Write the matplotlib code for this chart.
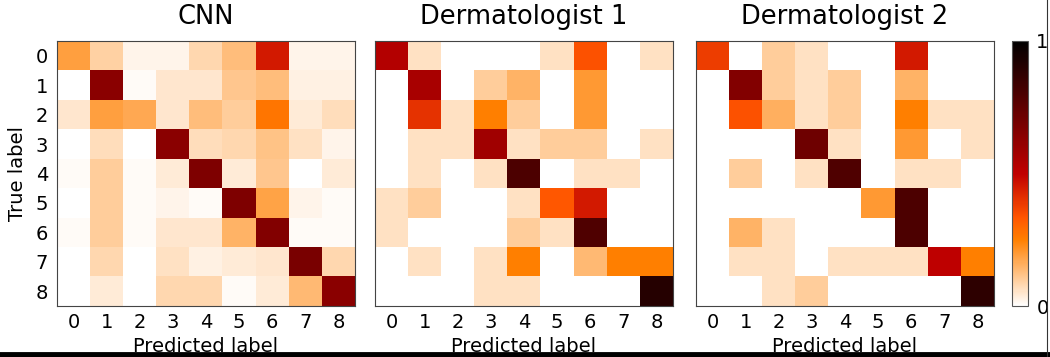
import numpy as np
import matplotlib
matplotlib.use("Agg")
import matplotlib.pyplot as plt
from matplotlib.lines import Line2D

# =========================
# Data (normalised confusion matrices)
# =========================
CLASSES = ["0", "1", "2", "3", "4", "5", "6", "7", "8"]
TITLES  = ["CNN", "Dermatologist 1", "Dermatologist 2"]

cnn = [
    [0.19, 0.09, 0.02, 0.02, 0.08, 0.13, 0.45, 0.02, 0.02],
    [0.00, 0.64, 0.01, 0.05, 0.05, 0.11, 0.13, 0.03, 0.03],
    [0.05, 0.19, 0.17, 0.05, 0.13, 0.10, 0.27, 0.04, 0.07],
    [0.00, 0.07, 0.00, 0.64, 0.07, 0.08, 0.12, 0.06, 0.02],
    [0.01, 0.10, 0.01, 0.04, 0.67, 0.04, 0.11, 0.00, 0.04],
    [0.00, 0.10, 0.01, 0.02, 0.01, 0.67, 0.18, 0.02, 0.01],
    [0.01, 0.10, 0.01, 0.05, 0.05, 0.15, 0.66, 0.01, 0.01],
    [0.00, 0.08, 0.00, 0.06, 0.03, 0.04, 0.05, 0.68, 0.08],
    [0.00, 0.04, 0.00, 0.08, 0.08, 0.01, 0.04, 0.14, 0.64],
]

derm1 = [
    [0.53, 0.06, 0.00, 0.00, 0.00, 0.06, 0.34, 0.00, 0.06],
    [0.00, 0.56, 0.00, 0.10, 0.15, 0.00, 0.20, 0.00, 0.00],
    [0.00, 0.40, 0.06, 0.25, 0.10, 0.00, 0.20, 0.00, 0.00],
    [0.00, 0.06, 0.06, 0.58, 0.06, 0.10, 0.10, 0.00, 0.06],
    [0.00, 0.06, 0.00, 0.06, 0.80, 0.00, 0.06, 0.06, 0.00],
    [0.06, 0.10, 0.00, 0.00, 0.06, 0.33, 0.45, 0.00, 0.00],
    [0.06, 0.00, 0.00, 0.00, 0.10, 0.06, 0.79, 0.00, 0.00],
    [0.00, 0.06, 0.00, 0.06, 0.25, 0.00, 0.14, 0.25, 0.25],
    [0.00, 0.00, 0.00, 0.06, 0.06, 0.00, 0.00, 0.00, 0.90],
]

derm2 = [
    [0.38, 0.00, 0.10, 0.06, 0.00, 0.00, 0.45, 0.00, 0.00],
    [0.00, 0.66, 0.10, 0.06, 0.10, 0.00, 0.15, 0.00, 0.00],
    [0.00, 0.34, 0.16, 0.06, 0.10, 0.00, 0.25, 0.06, 0.06],
    [0.00, 0.00, 0.00, 0.71, 0.06, 0.00, 0.20, 0.00, 0.06],
    [0.00, 0.10, 0.00, 0.06, 0.79, 0.00, 0.06, 0.06, 0.00],
    [0.00, 0.00, 0.00, 0.00, 0.00, 0.20, 0.80, 0.00, 0.00],
    [0.00, 0.15, 0.06, 0.00, 0.00, 0.00, 0.80, 0.00, 0.00],
    [0.00, 0.06, 0.06, 0.00, 0.06, 0.06, 0.06, 0.50, 0.25],
    [0.00, 0.00, 0.06, 0.10, 0.00, 0.00, 0.00, 0.00, 0.88],
]

MATRICES = [cnn, derm1, derm2]

# =========================
# Layout (pixels on a 1050x357 canvas)
# =========================
W, H = 1050, 357
AX_LEFTS  = [57, 375, 696]
AX_WIDTH  = 298
AX_TOP    = 41
AX_BOTTOM = 306
CB_LEFT, CB_WIDTH = 1012, 16
FS = 14

fig = plt.figure(figsize=(W / 100, H / 100), dpi=100)


def px_rect(left, width, top, bottom):
    return [left / W, 1 - bottom / H, width / W, (bottom - top) / H]


cmap = plt.get_cmap("gist_heat_r")
im = None
for i, (mat, title) in enumerate(zip(MATRICES, TITLES)):
    ax = fig.add_axes(px_rect(AX_LEFTS[i], AX_WIDTH, AX_TOP, AX_BOTTOM))
    im = ax.imshow(np.array(mat), cmap=cmap, vmin=0, vmax=1,
                   interpolation="nearest", aspect="auto")
    ax.set_title(title, fontsize=18.5, pad=12)
    ax.set_xticks(range(len(CLASSES)))
    ax.set_xticklabels(CLASSES, fontsize=FS)
    ax.set_yticks(range(len(CLASSES)))
    if i == 0:
        ax.set_yticklabels(CLASSES, fontsize=FS)
        ax.set_ylabel("True label", fontsize=FS, labelpad=6)
    else:
        ax.set_yticklabels([])
    ax.tick_params(axis="x", length=0, pad=5)
    ax.tick_params(axis="y", length=0, pad=6.5)
    ax.set_xlabel("Predicted label", fontsize=FS, labelpad=3.5)
    for sp in ax.spines.values():
        sp.set_color("#444444")
        sp.set_linewidth(0.8)

# ── colorbar ──
cax = fig.add_axes(px_rect(CB_LEFT, CB_WIDTH, AX_TOP, AX_BOTTOM))
cb = fig.colorbar(im, cax=cax, ticks=[0, 1])
cb.ax.set_yticklabels(["0", "1"], fontsize=FS)
cb.ax.tick_params(length=0, pad=6)
cb.outline.set_edgecolor("#555555")
cb.outline.set_linewidth(0.8)

# ── screenshot frame lines (bottom bar, right edge) ──
fig.add_artist(Line2D([0, 1], [2.5 / H, 2.5 / H], transform=fig.transFigure,
                      color="black", linewidth=4.2, zorder=10))
fig.add_artist(Line2D([1046.5 / W, 1046.5 / W], [0, 1], transform=fig.transFigure,
                      color="#333333", linewidth=0.8, zorder=10))

fig.savefig("out.png", dpi=100)
